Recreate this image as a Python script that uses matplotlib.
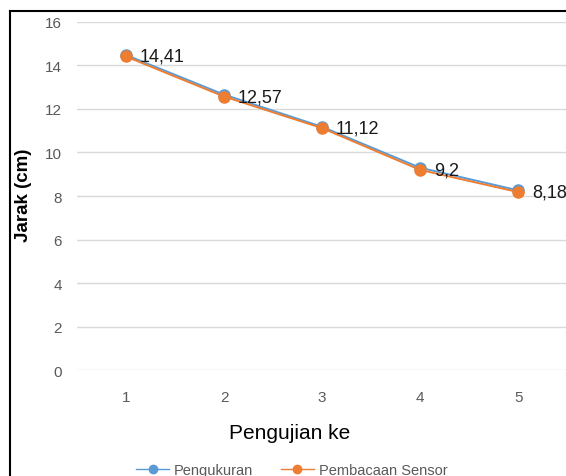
import numpy as np
import matplotlib.pyplot as plt
from matplotlib.lines import Line2D

pengujian = [1, 2, 3, 4, 5]
pengukuran = [14.48, 12.66, 11.18, 9.3, 8.26]
sensor = [14.41, 12.57, 11.12, 9.2, 8.18]
label_txt = ['14,41', '12,57', '11,12', '9,2', '8,18']

plt.rcParams['font.family'] = ['Liberation Sans', 'DejaVu Sans']

fig = plt.figure(figsize=(5.66, 4.77), dpi=100)
ax = fig.add_axes([0.136, 0.222, 0.866, 0.730])

blue = '#5B9BD5'
orange = '#ED7D31'

ax.plot(pengujian, pengukuran, color=blue, lw=1.4, marker='o', ms=8, label='Pengukuran')
ax.plot(pengujian, sensor, color=orange, lw=1.4, marker='o', ms=8, label='Pembacaan Sensor')

for x, y, t in zip(pengujian, sensor, label_txt):
    ax.annotate(t, (x, y), xytext=(10, 0), textcoords='offset points',
                va='center', ha='left', fontsize=13, color='#1a1a1a')

ax.set_xlim(0.5, 5.5)
ax.set_ylim(0, 16)
ax.set_yticks(np.arange(0, 17, 2))
ax.set_xticks(pengujian)
ax.grid(axis='y', color='#D9D9D9', lw=1)
ax.set_axisbelow(True)
for s in ax.spines.values():
    s.set_visible(False)
ax.tick_params(length=0, labelsize=11, colors='#595959', pad=11)
ax.tick_params(axis='x', pad=14)

fig.text(0.042, 0.59, 'Jarak (cm)', rotation=90, ha='center', va='center',
         fontsize=13.5, fontweight='bold', color='black')
fig.text(0.512, 0.092, 'Pengujian ke', ha='center', va='center', fontsize=15, color='black')

handles = [Line2D([], [], color=blue, marker='o', ms=6, lw=1),
           Line2D([], [], color=orange, marker='o', ms=6, lw=1)]
fig.legend(handles, ['Pengukuran', 'Pembacaan Sensor'], loc='center',
           bbox_to_anchor=(0.515, 0.012), ncol=2, frameon=False, fontsize=10.5,
           labelcolor='#595959', handlelength=2.3, columnspacing=1.9, handletextpad=0.3)

# chart border (cropped on right and bottom)
fig.add_artist(Line2D([0.0177, 0.0177], [0.0, 0.975], color='black', lw=1.5, transform=fig.transFigure))
fig.add_artist(Line2D([0.0177, 1.0], [0.975, 0.975], color='black', lw=1.5, transform=fig.transFigure))

fig.savefig('out.png', dpi=100)
